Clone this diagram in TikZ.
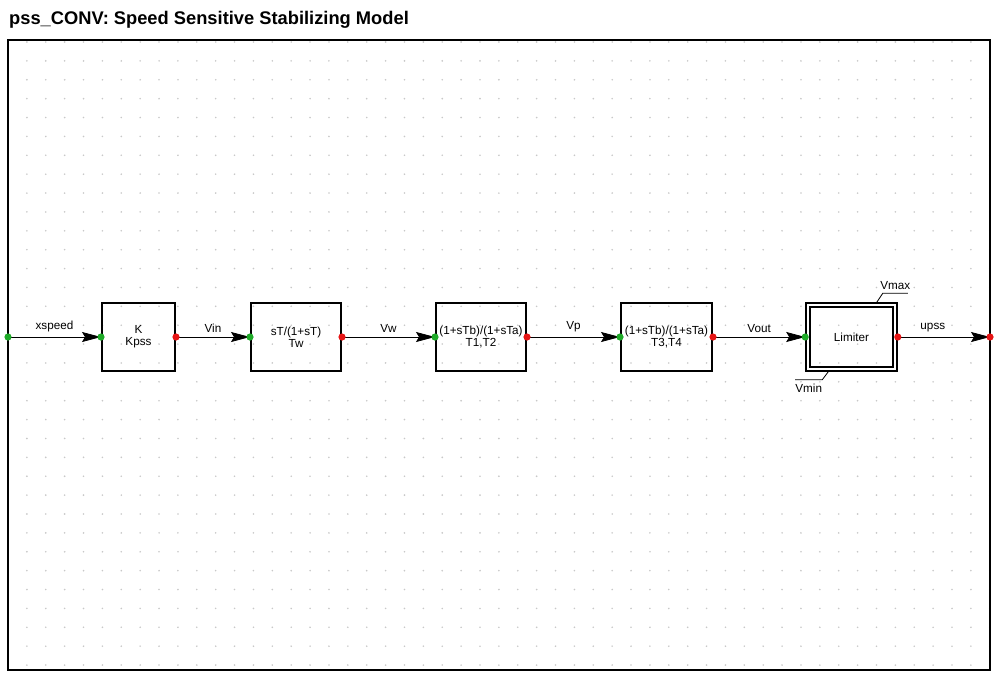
\documentclass[tikz,border=0pt]{standalone}
\usepackage{fontspec}
\setmainfont{Liberation Sans}
\usepackage{xcolor}
\definecolor{pssgreen}{RGB}{30,170,40}
\definecolor{pssred}{RGB}{230,20,20}
\definecolor{pssgrid}{RGB}{200,200,200}
\usepackage{tikz}
\usetikzlibrary{arrows.meta, positioning, calc}

\tikzset{
  blk/.style={draw, line width=2pt, minimum width=#1, minimum height=68pt,
              inner sep=0pt, align=center, font=\fontsize{11.7}{12}\selectfont},
  blk/.default=90pt,
  sig/.style={-{Stealth[length=19pt, width=10pt, inset=3pt]}, line width=0.8pt},
  lbl/.style={font=\fontsize{11.7}{12}\selectfont, above=1pt},
  tick/.style={line width=0.8pt}
}

\begin{document}
\begin{tikzpicture}[x=1pt, y=-1pt]
\useasboundingbox (0,0) rectangle (1001,675);

% --- Title ---
\node[anchor=west, font=\bfseries\fontsize{18.3}{20}\selectfont, inner sep=0pt]
     (title) at (9,20) {pss\_CONV: Speed Sensitive Stabilizing Model};

% --- Background grid ---
\foreach \i in {0,...,52}
  \foreach \j in {0,...,33}
    \fill[pssgrid] (8+18.88*\i, 42+18.88*\j) circle (0.9);

% --- Frame ---
\draw[line width=1.5pt] (8,40) rectangle (990,670);
\coordinate (xin) at (8,337);
\coordinate (xout) at (990,337);

% --- Blocks ---
\node[blk=73pt] (kblk) at (138.5,337) {K\\Kpss};
\node[blk=90pt] (twblk) at (296,337) {sT/(1+sT)\\Tw};
\node[blk=90pt] (lla) at (481,337) {(1+sTb)/(1+sTa)\\T1,T2};
\node[blk=91pt] (llb) at (666.5,337) {(1+sTb)/(1+sTa)\\T3,T4};

% Limiter with double border
\node[blk=87pt, line width=1.6pt, double, double distance=2.4pt,
      minimum height=64pt, outer sep=2.8pt] (lim) at (851.5,337) {Limiter};
\draw[tick] ($(lim.north east)+(-21,0)$) -- ++(6,-9) -- ++(25,0)
     node[midway, above=0pt, font=\fontsize{11.7}{12}\selectfont] {Vmax};
\draw[tick] ($(lim.south west)+(23,0)$) -- ++(-6,8) -- ++(-27,0)
     node[midway, below=0pt, font=\fontsize{11.7}{12}\selectfont] {Vmin};

% --- Signals ---
\draw[sig] (xin) -- (kblk.west) node[lbl, midway] {xspeed};
\draw[sig] (kblk.east) -- (twblk.west) node[lbl, midway] {Vin};
\draw[sig] (twblk.east) -- (lla.west) node[lbl, midway] {Vw};
\draw[sig] (lla.east) -- (llb.west) node[lbl, midway] {Vp};
\draw[sig] (llb.east) -- (lim.west) node[lbl, midway] {Vout};
\draw[sig] (lim.east) -- (xout) node[lbl, pos=0.38] {upss};

% --- Ports ---
\foreach \p in {xin, kblk.west, twblk.west, lla.west, llb.west, lim.west}
  \fill[pssgreen] (\p) circle (3.6);
\foreach \p in {kblk.east, twblk.east, lla.east, llb.east, lim.east, xout}
  \fill[pssred] (\p) circle (3.6);

\end{tikzpicture}
\end{document}
